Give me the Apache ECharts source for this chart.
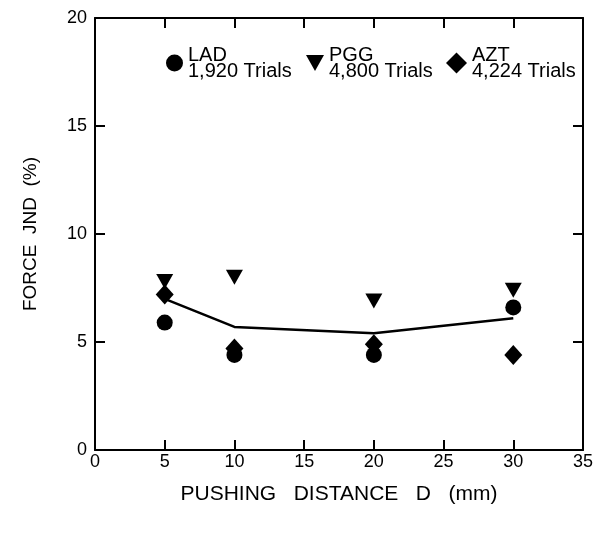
<!DOCTYPE html>
<html>
<head>
<meta charset="UTF-8">
<title>force jnd</title>
<script src="https://cdn.jsdelivr.net/npm/echarts@6/dist/echarts.min.js"></script>
</head>
<body style="margin:0">
<div id="main" style="width:605px;height:538px;"></div>
<script type="text/javascript">
    // pushing distance D (mm)
    var distances = [5, 10, 20, 30];
    // force JND (%) per subject
    var lad = [5.9, 4.4, 4.4, 6.6];
    var pgg = [7.8, 8.0, 6.9, 7.4];
    var azt = [7.2, 4.7, 4.9, 4.4];
    // mean line
    var meanJnd = [7.0, 5.7, 5.4, 6.1];

    var font = 'Liberation Sans';
    var triPath = 'path://M0,0 L20,0 L10,18 Z';

    function pairs(ys) {
        var out = [];
        for (var i = 0; i < distances.length; i++) {
            out.push([distances[i], ys[i]]);
        }
        return out;
    }

    var myChart = echarts.init(document.getElementById('main'));

    var axisLine = { show: true, onZero: false, lineStyle: { color: '#000', width: 2 } };
    var tick = { show: true, inside: true, length: 10, lineStyle: { color: '#000', width: 2 } };
    var legendText = { fontFamily: font, fontSize: 20, color: '#000', lineHeight: 16 };

    function legendAt(left, name, icon, size) {
        return {
            left: left,
            top: 40,
            itemWidth: size,
            itemHeight: size,
            itemGap: 0,
            selectedMode: false,
            textStyle: legendText,
            data: [{ name: name, icon: icon }]
        };
    }

    myChart.setOption({
        animation: false,
        grid: { left: 95, right: 22, top: 18, bottom: 88 },
        legend: [
            legendAt(161, 'LAD\n1,920 Trials', 'circle', 17),
            legendAt(301, 'PGG\n4,800 Trials', triPath, 18),
            legendAt(441, 'AZT\n4,224 Trials', 'diamond', 21)
        ],
        xAxis: [{
            type: 'value',
            min: 0,
            max: 35,
            interval: 5,
            name: 'PUSHING   DISTANCE   D   (mm)',
            nameLocation: 'middle',
            nameGap: 34,
            nameTextStyle: { fontFamily: font, fontSize: 21, color: '#000' },
            axisLine: axisLine,
            axisTick: tick,
            axisLabel: { fontFamily: font, fontSize: 18, color: '#000', margin: 3 },
            splitLine: { show: false }
        }, {
            type: 'value',
            position: 'top',
            min: 0,
            max: 35,
            interval: 5,
            axisLine: axisLine,
            axisTick: tick,
            axisLabel: { show: false },
            splitLine: { show: false }
        }],
        yAxis: [{
            type: 'value',
            min: 0,
            max: 20,
            interval: 5,
            name: 'FORCE  JND  (%)',
            nameLocation: 'middle',
            nameGap: 55,
            nameTextStyle: { fontFamily: font, fontSize: 19, color: '#000' },
            axisLine: axisLine,
            axisTick: tick,
            axisLabel: { fontFamily: font, fontSize: 18, color: '#000', margin: 8 },
            splitLine: { show: false }
        }, {
            type: 'value',
            position: 'right',
            min: 0,
            max: 20,
            interval: 5,
            axisLine: axisLine,
            axisTick: tick,
            axisLabel: { show: false },
            splitLine: { show: false }
        }],
        series: [{
            name: 'mean',
            type: 'line',
            data: pairs(meanJnd),
            showSymbol: false,
            lineStyle: { color: '#000', width: 2.5 },
            silent: true
        }, {
            name: 'LAD\n1,920 Trials',
            type: 'scatter',
            data: pairs(lad),
            symbol: 'circle',
            symbolSize: 16,
            itemStyle: { color: '#000', opacity: 1 }
        }, {
            name: 'PGG\n4,800 Trials',
            type: 'scatter',
            data: pairs(pgg),
            symbol: triPath,
            symbolSize: [17, 15],
            itemStyle: { color: '#000', opacity: 1 }
        }, {
            name: 'AZT\n4,224 Trials',
            type: 'scatter',
            data: pairs(azt),
            symbol: 'diamond',
            symbolSize: [18, 20],
            itemStyle: { color: '#000', opacity: 1 }
        }]
    });
</script>
</body>
</html>
